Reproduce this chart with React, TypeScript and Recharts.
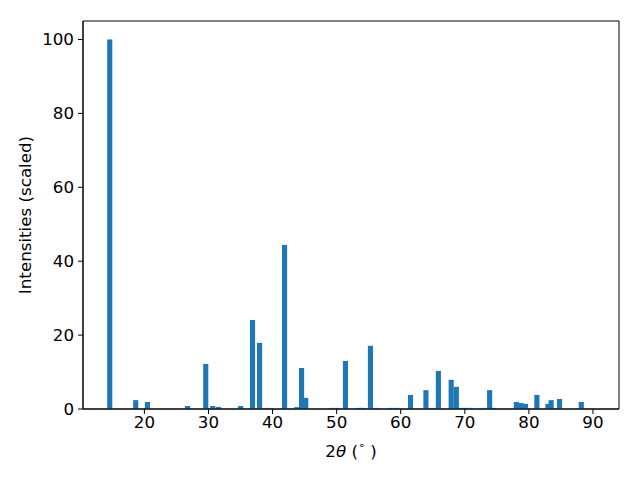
import React from 'react';
import { BarChart, Bar, XAxis, YAxis, ReferenceArea } from 'recharts';

// peak positions (2θ, degrees) and scaled intensities
const twoTheta = [
  14.62, 18.67, 20.5, 26.75, 29.6, 30.7, 31.6, 35.05, 36.9, 38.0,
  39.4, 41.9, 43.8, 44.55, 45.2, 49.4, 50.2, 51.4, 53.45, 54.1,
  55.3, 56.2, 58.4, 59.3, 61.55, 63.96, 64.95, 65.9, 67.9, 68.7,
  69.5, 70.3, 71.0, 73.1, 73.9, 74.5, 78.07, 78.8, 79.5, 81.27,
  83.0, 83.5, 84.8, 88.2, 89.86,
];
const intensities = [
  100, 2.4, 1.9, 0.8, 12.2, 0.8, 0.55, 0.8, 24.1, 17.9,
  0.3, 44.4, 0.5, 11.1, 3.0, 0.3, 0.3, 13.0, 0.3, 0.3,
  17.1, 0.3, 0.3, 0.3, 3.8, 5.1, 0.3, 10.3, 7.9, 6.0,
  0.3, 0.3, 0.3, 0.3, 5.1, 0.3, 1.9, 1.6, 1.4, 3.8,
  1.4, 2.4, 2.7, 1.9, 0.1,
];
const xTicks = [20, 30, 40, 50, 60, 70, 80, 90];
const yTicks = [0, 20, 40, 60, 80, 100];

const xDomain = [10.42, 94.06];
const yDomain = [0, 105];

const data = twoTheta.map((t, i) => ({ t, v: intensities[i] }));

const W = 640;
const H = 480;
const plotLeft = 83;
const plotRight = 619;
const barWidthUnits = 0.8;
const pxPerUnit = (plotRight - plotLeft) / (xDomain[1] - xDomain[0]);
const barPx = barWidthUnits * pxPerUnit;

const font = { fontFamily: 'DejaVu Sans', fontSize: 16.7, fill: '#000' };

// fixed-width bar centred on its 2θ value
const PeakBar = (props: any) => {
  const { x, width, y, height, fill } = props;
  if (height == null || isNaN(height)) return null;
  const cx = x + width / 2;
  return <rect x={cx - barPx / 2} y={y} width={barPx} height={Math.max(height, 0.6)} fill={fill} />;
};

export default function App() {
  return (
    <div style={{ position: 'fixed', left: 0, top: 0, width: W, height: H, background: '#fff' }}>
      <BarChart width={W} height={H} data={data} margin={{ top: 21, right: W - plotRight, left: 0, bottom: 0 }}>
        <XAxis
          dataKey="t"
          type="number"
          domain={xDomain}
          allowDataOverflow
          ticks={xTicks}
          height={71}
          tickSize={5}
          tickMargin={2}
          stroke="#000"
          tick={font}
          tickLine={{ stroke: '#000' }}
          label={(p: any) => {
            const vb = p.viewBox;
            return (
              <text x={vb.x + vb.width / 2} y={452} textAnchor="middle" dominantBaseline="middle" {...font}>
                2<tspan fontStyle="italic">θ</tspan> (<tspan fontSize={11} dy={-6}>∘</tspan>
                <tspan dy={6}> )</tspan>
              </text>
            );
          }}
        />
        <YAxis
          type="number"
          domain={yDomain}
          allowDataOverflow
          ticks={yTicks}
          width={plotLeft}
          tickSize={5}
          tickMargin={4}
          stroke="#000"
          tick={font}
          tickLine={{ stroke: '#000' }}
          label={(p: any) => {
            const vb = p.viewBox;
            const cy = vb.y + vb.height / 2;
            return (
              <text x={26} y={cy} transform={`rotate(-90, 26, ${cy})`} textAnchor="middle" dominantBaseline="middle" {...font}>
                Intensities (scaled)
              </text>
            );
          }}
        />
        <Bar dataKey="v" fill="#1f77b4" barSize={5} shape={PeakBar} isAnimationActive={false} />
        <ReferenceArea
          x1={xDomain[0]}
          x2={xDomain[1]}
          y1={yDomain[0]}
          y2={yDomain[1]}
          fill="none"
          stroke="#000"
          strokeWidth={1}
          ifOverflow="visible"
        />
      </BarChart>
    </div>
  );
}
